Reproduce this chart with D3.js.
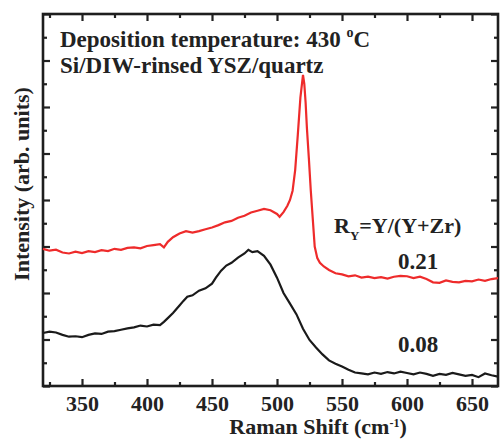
<!DOCTYPE html>
<html>
<head>
<meta charset="utf-8">
<script src="https://cdn.jsdelivr.net/npm/d3@7"></script>
<style>
  body { margin: 0; background: #fff; }
  text { font-family: "Liberation Serif", "Times New Roman", serif; font-weight: bold; fill: #222; }
</style>
</head>
<body>
<svg id="chart" width="500" height="440"></svg>
<script>
// Raman shift (cm-1) and intensities
var shiftRed = [320,325,330,335,340,345,350,355,360,365,370,375,380,385,390,395,400,405,410,413,416,420,425,430,435,440,445,450,455,460,465,470,475,480,485,490,495,500,502,505,508,510,512,514,516,518,520,521,522,523,524.5,526,527.5,529,531,533,536,540,545,550,555,560,565,570,575,580,585,590,595,600,605,610,615,620,625,630,635,640,645,650,655,660,665,670];
var intRed = [5.90,5.82,5.86,5.74,5.70,5.78,5.72,5.80,5.76,5.84,5.80,5.90,5.86,5.94,5.96,5.92,6.02,6.06,6.10,5.96,6.20,6.40,6.56,6.66,6.60,6.66,6.74,6.82,6.92,7.04,7.10,7.24,7.32,7.46,7.54,7.62,7.56,7.40,7.28,7.48,7.75,8.00,8.40,9.30,10.80,12.40,13.38,13.00,12.20,11.10,9.80,8.40,7.20,6.00,5.50,5.30,5.14,4.99,4.85,4.80,4.72,4.76,4.66,4.70,4.64,4.68,4.62,4.70,4.74,4.72,4.64,4.70,4.60,4.46,4.44,4.54,4.48,4.46,4.52,4.50,4.58,4.52,4.60,4.64];

var shiftBlack = [320,325,330,335,340,345,350,355,360,365,370,375,380,385,390,395,400,405,410,413,416,420,425,428,431,435,440,445,450,453,457,461,465,470,475,478,481,485,490,495,500,505,510,515,520,525,530,535,540,545,550,555,560,565,570,575,580,585,590,595,600,605,610,615,620,625,630,635,640,645,650,655,660,665,670];
var intBlack = [2.28,2.34,2.30,2.20,2.12,2.14,2.10,2.20,2.26,2.24,2.34,2.36,2.42,2.48,2.52,2.60,2.56,2.64,2.62,2.76,2.92,3.14,3.46,3.66,3.84,3.90,4.10,4.20,4.40,4.66,4.96,5.18,5.30,5.52,5.70,5.86,5.76,5.80,5.60,5.22,4.66,4.00,3.54,3.08,2.46,1.98,1.66,1.36,1.10,0.96,0.84,0.70,0.58,0.54,0.50,0.58,0.52,0.60,0.54,0.62,0.56,0.50,0.58,0.52,0.44,0.52,0.48,0.56,0.50,0.44,0.48,0.38,0.54,0.46,0.40];

var xTicks = [350,400,450,500,550,600,650];
var xMinor = [325,375,425,475,525,575,625];
var yTicks = [0,2,4,6,8,10,12,14,16];
var yMinor = [1,3,5,7,9,11,13,15];

var svg = d3.select("#chart");
var mLeft = 43, mRight = 498, mTop = 14, mBottom = 386;

var x = d3.scaleLinear().domain([320, 670]).range([mLeft, mRight]);
var y = d3.scaleLinear().domain([0, 16]).range([mBottom, mTop]);

function tickAxis(axis, g, size) {
  g.call(axis.tickSize(size))
  g.select(".domain").remove();
  g.selectAll(".tick line").attr("stroke", "#222").attr("stroke-width", 2.2);
}

// bottom with labels
var gb = svg.append("g").attr("transform", "translate(0," + mBottom + ")");
tickAxis(d3.axisBottom(x).tickValues(xTicks).tickPadding(9), gb, -7);
gb.selectAll(".tick text").style("font-size", "22px").attr("fill", "#222");
var gbm = svg.append("g").attr("transform", "translate(0," + mBottom + ")");
tickAxis(d3.axisBottom(x).tickValues(xMinor).tickFormat(""), gbm, -4);

// top
var gt = svg.append("g").attr("transform", "translate(0," + mTop + ")");
tickAxis(d3.axisTop(x).tickValues(xTicks).tickFormat(""), gt, -7);
var gtm = svg.append("g").attr("transform", "translate(0," + mTop + ")");
tickAxis(d3.axisTop(x).tickValues(xMinor).tickFormat(""), gtm, -4);

// left and right, no labels
var gl = svg.append("g").attr("transform", "translate(" + mLeft + ",0)");
tickAxis(d3.axisLeft(y).tickValues(yTicks).tickFormat(""), gl, -7);
var glm = svg.append("g").attr("transform", "translate(" + mLeft + ",0)");
tickAxis(d3.axisLeft(y).tickValues(yMinor).tickFormat(""), glm, -4);
var gr = svg.append("g").attr("transform", "translate(" + mRight + ",0)");
tickAxis(d3.axisRight(y).tickValues(yTicks).tickFormat(""), gr, -7);
var grm = svg.append("g").attr("transform", "translate(" + mRight + ",0)");
tickAxis(d3.axisRight(y).tickValues(yMinor).tickFormat(""), grm, -4);

// frame
svg.append("rect")
  .attr("x", mLeft).attr("y", mTop)
  .attr("width", mRight - mLeft).attr("height", mBottom - mTop)
  .attr("fill", "none").attr("stroke", "#1e1e1e").attr("stroke-width", 2.6);

var line = d3.line()
  .x(function (d) { return x(d[0]); })
  .y(function (d) { return y(d[1]); });

svg.append("path")
  .datum(d3.zip(shiftRed, intRed))
  .attr("d", line)
  .attr("fill", "none").attr("stroke", "#ee2b2b").attr("stroke-width", 2.2);

svg.append("path")
  .datum(d3.zip(shiftBlack, intBlack))
  .attr("d", line)
  .attr("fill", "none").attr("stroke", "#1a1a1a").attr("stroke-width", 2.2);

// texts
var t1 = svg.append("text").attr("x", 60).attr("y", 47).style("font-size", "23px");
t1.append("tspan").text("Deposition temperature: 430 ");
t1.append("tspan").text("o").style("font-size", "14px").attr("dy", -10);
t1.append("tspan").text("C").attr("dy", 10);

svg.append("text").attr("x", 60).attr("y", 73).style("font-size", "23px")
  .text("Si/DIW-rinsed YSZ/quartz");

var r = svg.append("text").attr("x", 334).attr("y", 233).style("font-size", "22px");
r.append("tspan").text("R");
r.append("tspan").text("Y").style("font-size", "13px").attr("dy", 7);
r.append("tspan").text("=Y/(Y+Zr)").attr("dy", -7);

svg.append("text").attr("x", 398).attr("y", 269).style("font-size", "23px").text("0.21");
svg.append("text").attr("x", 398).attr("y", 352).style("font-size", "23px").text("0.08");

var xl = svg.append("text").attr("x", 318).attr("y", 434).attr("text-anchor", "middle").style("font-size", "22px");
xl.append("tspan").text("Raman Shift (cm");
xl.append("tspan").text("-1").style("font-size", "12px").attr("dy", -7);
xl.append("tspan").text(")").attr("dy", 7);

svg.append("text")
  .attr("transform", "translate(29,184) rotate(-90)")
  .attr("text-anchor", "middle")
  .style("font-size", "22px")
  .text("Intensity (arb. units)");
</script>
</body>
</html>
